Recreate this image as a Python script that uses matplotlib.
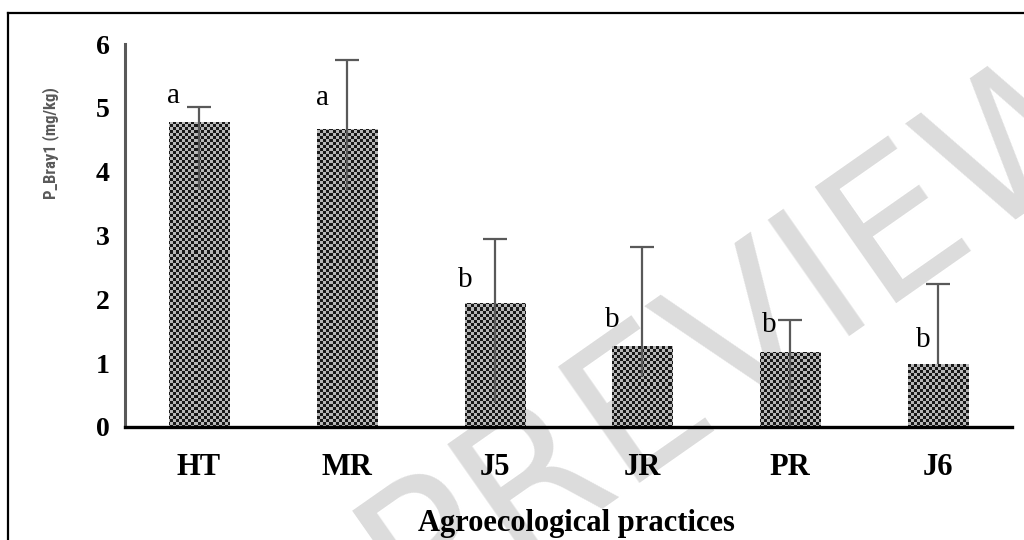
import matplotlib
matplotlib.use('Agg')
import matplotlib.pyplot as plt
import numpy as np
from matplotlib.lines import Line2D
from matplotlib import font_manager

# ---------------- data ----------------
categories = ['HT', 'MR', 'J5', 'JR', 'PR', 'J6']
means = [4.78, 4.67, 1.95, 1.27, 1.17, 0.99]
err_low = [1.07, 0.98, 1.57, 0.48, 1.17, 0.00]
err_high = [0.24, 1.08, 1.00, 1.55, 0.51, 1.25]
letters = ['a', 'a', 'b', 'b', 'b', 'b']
y_ticks = [0, 1, 2, 3, 4, 5, 6]

# letter label placement (layout)
letter_dx = [-0.174, -0.162, -0.20, -0.206, -0.144, -0.10]
letter_base = [5.07, 5.05, 2.20, 1.57, 1.49, 1.26]

W, H = 1024, 540
SERIF = 'Liberation Serif'
names = {f.name for f in font_manager.fontManager.ttflist}
ylab_font = None
for cand in ['Liberation Sans Narrow', 'Roboto Condensed', 'Open Sans Condensed',
             'Arial Narrow']:
    if cand in names:
        ylab_font = dict(family=[cand, 'DejaVu Sans'], fontsize=12)
        break
if ylab_font is None:
    ylab_font = dict(family=['DejaVu Sans'], fontsize=10.3, fontstretch='condensed')

fig = plt.figure(figsize=(W / 100, H / 100), dpi=100, facecolor='white')

# watermark (background)
fig.text(745 / W, 1 - 330 / H, 'PREVIEW', rotation=35, fontsize=140,
         color='#dcdcdc', ha='center', va='center', zorder=-5,
         family='DejaVu Sans', fontweight='normal')

ax = fig.add_axes([125 / W, 113 / H, 887 / W, 383 / H])
ax.patch.set_visible(False)

x = np.arange(len(categories))
bars = ax.bar(x, means, width=0.406, color='#5e5e5e', linewidth=0, zorder=2)

# checkered texture for bars
ny, nx = 383, 887
rr, cc = np.mgrid[0:ny, 0:nx]
tex = np.where(((rr // 3) + (cc // 3)) % 2 == 0, 0.10, 0.72)
for b in bars:
    im = ax.imshow(tex, cmap='gray', vmin=0, vmax=1, extent=(-0.5, 5.5, 0, 6),
                   aspect='auto', interpolation='nearest', zorder=2.1)
    im.set_clip_path(b)

eb = ax.errorbar(x, means, yerr=[err_low, err_high], fmt='none',
                 ecolor='#595959', elinewidth=1.6, capsize=8.6, capthick=1.6,
                 zorder=3)
eb.lines[1][0].set_visible(False)  # no caps on lower ends

for i in range(len(categories)):
    ax.text(x[i] + letter_dx[i], letter_base[i], letters[i], ha='center',
            va='baseline', fontsize=21, family=SERIF, color='black', zorder=4)

ax.set_xlim(-0.5, 5.5)
ax.set_ylim(0, 6)

for s in ['top', 'right']:
    ax.spines[s].set_visible(False)
ax.spines['left'].set_color('#595959')
ax.spines['left'].set_linewidth(2.2)
ax.spines['bottom'].set_color('black')
ax.spines['bottom'].set_linewidth(2.4)
ax.spines['bottom'].set_zorder(5)

ax.set_yticks(y_ticks)
ax.set_yticklabels([str(v) for v in y_ticks], fontsize=20, fontweight='bold',
                   family=SERIF)
ax.set_xticks(x)
ax.set_xticklabels(categories, fontsize=22, fontweight='bold', family=SERIF)
ax.tick_params(axis='y', length=0, pad=11)
ax.tick_params(axis='x', length=0, pad=19)

ax.set_xlabel('Agroecological practices', fontsize=22, fontweight='bold',
              family=SERIF)
ax.xaxis.set_label_coords((576 - 125) / 887, -(524 - 427) / 383)
ax.xaxis.label.set_va('center')

fig.text(51 / W, 1 - 143.5 / H, 'P_Bray1 (mg/kg)', rotation=90, ha='center',
         va='center', color='#595959', fontweight='bold', **ylab_font)

# outer frame (left and top edges visible)
fig.add_artist(Line2D([8 / W, 8 / W], [0, 1 - 13 / H], color='black', lw=1.6,
                      transform=fig.transFigure))
fig.add_artist(Line2D([8 / W, 1], [1 - 13 / H, 1 - 13 / H], color='black',
                      lw=1.6, transform=fig.transFigure))

fig.savefig('out.png', dpi=100, facecolor='white')
